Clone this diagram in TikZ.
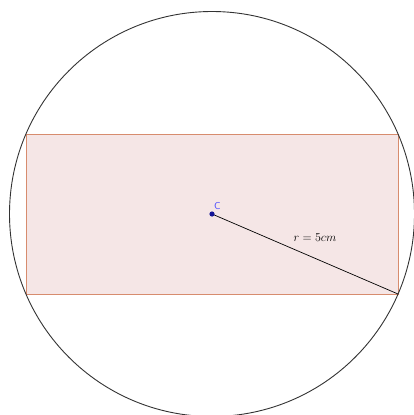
\documentclass[tikz,border=0pt]{standalone}
\usetikzlibrary{calc}
\definecolor{rectfill}{RGB}{245,230,230}
\definecolor{rectdraw}{RGB}{215,140,110}
\definecolor{ptblue}{RGB}{20,20,150}
\definecolor{lblblue}{RGB}{70,70,255}
\begin{document}
\begin{tikzpicture}[x=1pt,y=-1pt,
  circ/.style={draw=black!80,line width=0.9pt},
  rectb/.style={draw=rectdraw,fill=rectfill,line width=1pt},
  rad/.style={draw=black,line width=0.7pt}]
\useasboundingbox (0,0) rectangle (414,415);
\clip (0,0) rectangle (414,415);
\coordinate (O) at (212,214);
\coordinate (A) at (26,134);
\coordinate (B) at (398,294);
\filldraw[rectb] (A) rectangle (B);
\draw[circ] (O) circle (202.5);
\draw[rad] (O) -- (B);
\fill[ptblue] (O) circle (2.6);
\node[text=lblblue,font=\sffamily,anchor=south west,inner sep=0pt] (C) at (214,210) {C};
\node[font=\large,inner sep=0pt] (r) at (315,238) {$r=5cm$};
\end{tikzpicture}
\end{document}
